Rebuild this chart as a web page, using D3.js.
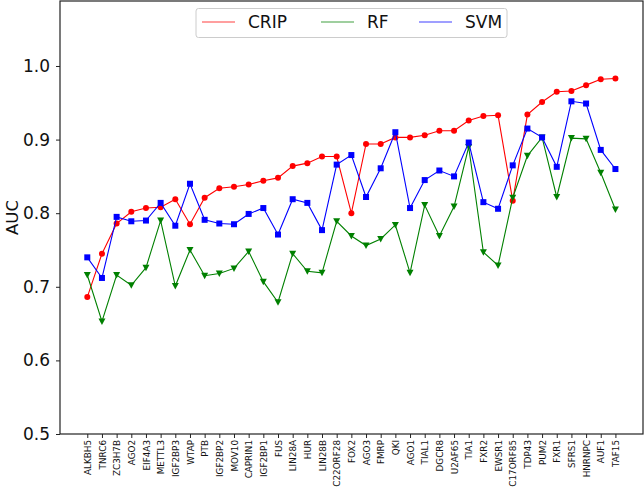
<!DOCTYPE html>
<html>
<head>
<meta charset="utf-8">
<script src="https://cdn.jsdelivr.net/npm/d3@7"></script>
<style>
  html, body { margin: 0; padding: 0; background: #fff; }
  svg { display: block; }
  text { font-family: "DejaVu Sans", Verdana, sans-serif; }
</style>
</head>
<body>
<svg id="chart" width="644" height="489"></svg>
<script>
const categories = ["ALKBH5","TNRC6","ZC3H7B","AGO2","EIF4A3","METTL3","IGF2BP3","WTAP","PTB","IGF2BP2","MOV10","CAPRIN1","IGF2BP1","FUS","LIN28A","HUR","LIN28B","C22ORF28","FOX2","AGO3","FMRP","QKI","AGO1","TIAL1","DGCR8","U2AF65","TIA1","FXR2","EWSR1","C17ORF85","TDP43","PUM2","FXR1","SFRS1","HNRNPC","AUF1","TAF15"];
const crip = [0.686,0.745,0.786,0.802,0.807,0.808,0.819,0.785,0.821,0.834,0.836,0.839,0.844,0.848,0.864,0.868,0.877,0.877,0.800,0.894,0.894,0.903,0.903,0.906,0.912,0.912,0.926,0.932,0.933,0.817,0.934,0.951,0.965,0.966,0.974,0.982,0.983];
const rf   = [0.716,0.653,0.716,0.702,0.726,0.790,0.701,0.750,0.715,0.718,0.725,0.748,0.707,0.679,0.745,0.721,0.719,0.789,0.769,0.756,0.765,0.784,0.719,0.811,0.769,0.809,0.890,0.747,0.729,0.821,0.878,0.903,0.822,0.902,0.901,0.855,0.805];
const svm  = [0.740,0.712,0.795,0.789,0.790,0.814,0.783,0.840,0.791,0.786,0.785,0.799,0.807,0.771,0.819,0.814,0.777,0.866,0.879,0.822,0.861,0.910,0.807,0.845,0.858,0.850,0.896,0.815,0.806,0.865,0.915,0.903,0.863,0.952,0.949,0.886,0.860];
const yTicks = [0.5, 0.6, 0.7, 0.8, 0.9, 1.0];
const seriesNames = ["CRIP", "RF", "SVM"];

const series = [
  { name: seriesNames[0], values: crip, color: "#ff0000", marker: "circle" },
  { name: seriesNames[1], values: rf,   color: "#008000", marker: "tri" },
  { name: seriesNames[2], values: svm,  color: "#0000ff", marker: "square" }
];

const svg = d3.select("#chart");
const L = 60, R = 643, T = 1, B = 434;

const x = d3.scaleLinear().domain([-1.86, 37.88]).range([L, R]);
const y = d3.scaleLinear().domain([0.5, 1.0883]).range([B, T]);

// Axes
const yAxis = d3.axisLeft(y).tickValues(yTicks).tickFormat(d3.format(".1f")).tickSize(4).tickPadding(6).tickSizeOuter(0);
const gy = svg.append("g").attr("transform", `translate(${L},0)`).call(yAxis);
gy.select(".domain").remove();
gy.selectAll("line").attr("stroke", "#222").attr("stroke-width", 1);
gy.selectAll("text").attr("font-size", 17).attr("fill", "#111");

const xAxis = d3.axisBottom(x).tickValues(d3.range(categories.length)).tickFormat(i => categories[i]).tickSize(4).tickSizeOuter(0);
const gx = svg.append("g").attr("transform", `translate(0,${B})`).call(xAxis);
gx.select(".domain").remove();
gx.selectAll("line").attr("stroke", "#222").attr("stroke-width", 1);
gx.selectAll("text")
  .attr("font-size", 8.8)
  .attr("fill", "#111")
  .attr("transform", "rotate(-90)")
  .attr("text-anchor", "end")
  .attr("x", -6)
  .attr("y", 0)
  .attr("dy", "0.35em");

// Y label
svg.append("text")
  .attr("transform", `translate(18,${(T + B) / 2}) rotate(-90)`)
  .attr("text-anchor", "middle")
  .attr("font-size", 16.5)
  .attr("fill", "#111")
  .text("AUC");

// Lines and markers
const line = d3.line().x((d, i) => x(i)).y(d => y(d));
series.forEach(s => {
  svg.append("path")
    .datum(s.values)
    .attr("d", line)
    .attr("fill", "none")
    .attr("stroke", s.color)
    .attr("stroke-width", 1.1);
  const g = svg.append("g");
  s.values.forEach((v, i) => {
    const cx = x(i), cy = y(v);
    if (s.marker === "circle") {
      g.append("circle").attr("cx", cx).attr("cy", cy).attr("r", 3).attr("fill", s.color);
    } else if (s.marker === "square") {
      g.append("rect").attr("x", cx - 3).attr("y", cy - 3).attr("width", 6).attr("height", 6).attr("fill", s.color);
    } else {
      g.append("path").attr("d", `M${cx - 3.5},${cy - 3} L${cx + 3.5},${cy - 3} L${cx},${cy + 3.5} Z`).attr("fill", s.color);
    }
  });
});

// Frame
svg.append("rect")
  .attr("x", L).attr("y", T).attr("width", R - L).attr("height", B - T)
  .attr("fill", "none").attr("stroke", "#222").attr("stroke-width", 1.2);

// Legend
const lg = svg.append("g");
lg.append("rect")
  .attr("x", 196).attr("y", 8.5).attr("width", 311).attr("height", 29)
  .attr("rx", 2.5).attr("fill", "#fff").attr("fill-opacity", 0.8)
  .attr("stroke", "#cccccc").attr("stroke-width", 1);
const legendX = [202, 321, 419];
series.forEach((s, i) => {
  const lx = legendX[i];
  lg.append("line").attr("x1", lx).attr("x2", lx + 33).attr("y1", 22).attr("y2", 22)
    .attr("stroke", s.color).attr("stroke-width", 1.1).attr("stroke-opacity", 0.75);
  lg.append("text").attr("x", lx + 46).attr("y", 22).attr("dy", "0.35em")
    .attr("font-size", 17).attr("fill", "#111").text(s.name);
});
</script>
</body>
</html>
